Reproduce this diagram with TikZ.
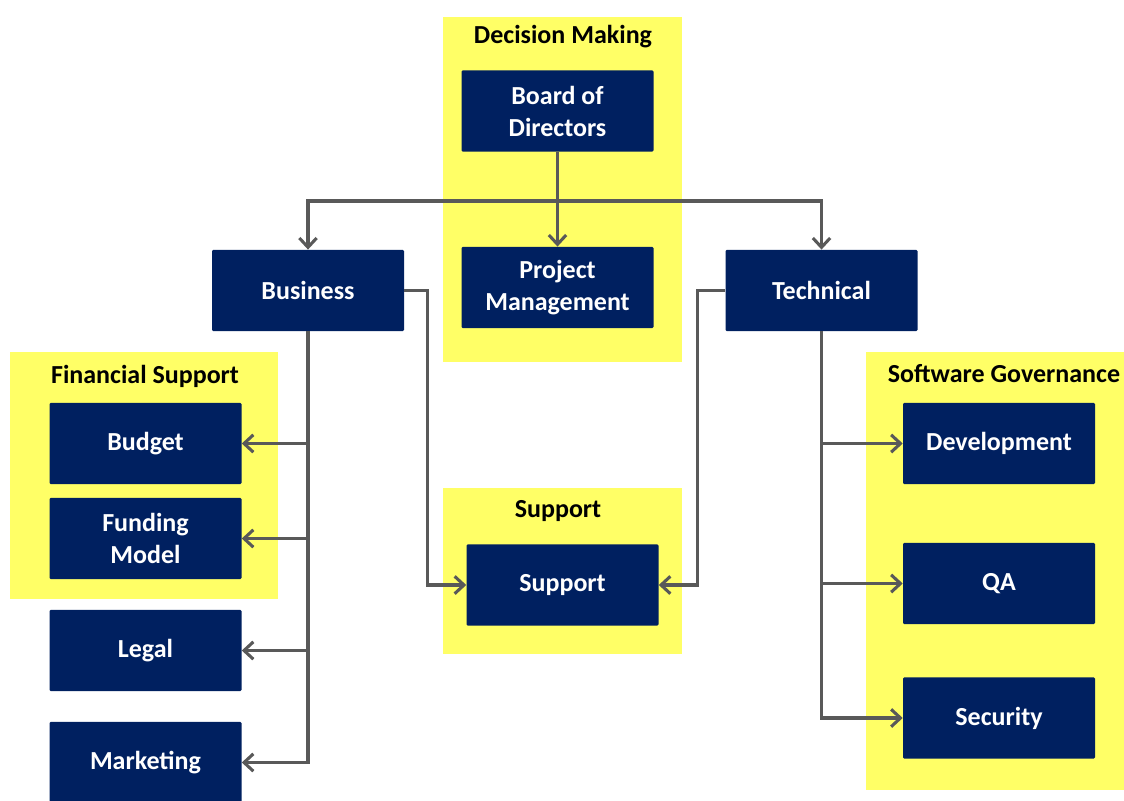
\documentclass[tikz,border=0pt]{standalone}
\usepackage{fontspec}
\setmainfont{Carlito}
\usetikzlibrary{arrows.meta}
\definecolor{navy}{HTML}{002060}
\definecolor{grpyellow}{HTML}{FFFF66}
\definecolor{linegray}{HTML}{595959}
\tikzset{
  box/.style={fill=navy, text=white, font=\fontsize{19.5}{24}\selectfont\bfseries, align=center,
    inner sep=0pt, rounded corners=1pt, minimum width=144pt, minimum height=61pt},
  grptitle/.style={font=\fontsize{19.5}{24}\selectfont\bfseries, text=black, inner sep=0pt},
  conn/.style={draw=linegray, line width=2.3pt},
  arr/.style={conn, -{Straight Barb[length=7pt,width=13pt]}},
}
\begin{document}
\begin{tikzpicture}[x=0.75pt,y=-0.75pt]
\useasboundingbox (0,0) rectangle (1124,800);
% yellow groups
\fill[grpyellow] (443,17) rectangle (682,362);
\fill[grpyellow] (10,352) rectangle (278,599);
\fill[grpyellow] (443,488) rectangle (682,654);
\fill[grpyellow] (866,352) rectangle (1124,790);
\node[grptitle] (tdm) at (563,37) {Decision Making};
\node[grptitle] (tfs) at (145,376) {Financial Support};
\node[grptitle] (tsu) at (558,511) {Support};
\node[grptitle] (tsg) at (1004,374) {Software Governance};
% boxes
\node[box] (board) at (557.5,111) {Board of\\Directors};
\node[box] (pm) at (557.5,287.5) {Project\\Management};
\node[box] (business) at (308,290.5) {Business};
\node[box] (technical) at (821.5,290.5) {Technical};
\node[box] (budget) at (145.5,443.5) {Budget};
\node[box] (funding) at (145.5,538.5) {Funding\\Model};
\node[box] (legal) at (145.5,650.5) {Legal};
\node[box] (marketing) at (145.5,762.5) {Marketing};
\node[box] (support) at (562.5,585) {Support};
\node[box] (dev) at (999,443.5) {Development};
\node[box] (qa) at (999,583.5) {QA};
\node[box] (security) at (999,718) {Security};
% connectors
\coordinate (split) at (557.5,201);
\draw[arr] (board.south) -- (pm.north);
\draw[arr] (split) -| (business.north);
\draw[arr] (split) -| (technical.north);
\draw[arr] (business.south) |- (budget.east);
\draw[arr] (business.south) |- (funding.east);
\draw[arr] (business.south) |- (legal.east);
\draw[arr] (business.south) |- (marketing.east);
\draw[arr] (business.east) -- ++(23,0) |- (support.west);
\draw[arr] (technical.west) -- ++(-28,0) |- (support.east);
\draw[arr] (technical.south) |- (dev.west);
\draw[arr] (technical.south) |- (qa.west);
\draw[arr] (technical.south) |- (security.west);
\end{tikzpicture}
\end{document}
